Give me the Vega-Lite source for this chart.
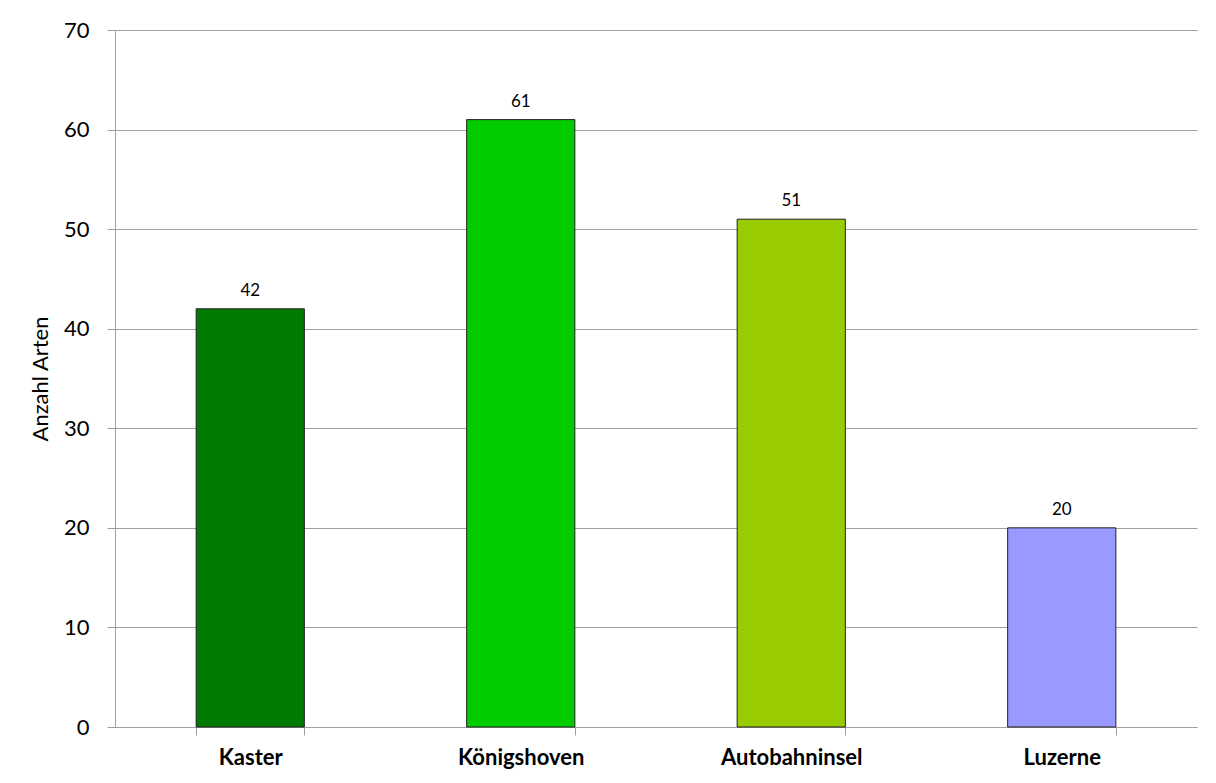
{
  "$schema": "https://vega.github.io/schema/vega-lite/v6.json",
  "width": 1082,
  "height": 697,
  "autosize": {"type": "none"},
  "padding": {"left": 115, "top": 30, "right": 19, "bottom": 56},
  "background": "white",
  "config": {
    "view": {"stroke": null},
    "font": "Lato"
  },
  "data": {
    "values": [
      {"ort": "Kaster", "arten": 42},
      {"ort": "Königshoven", "arten": 61},
      {"ort": "Autobahninsel", "arten": 51},
      {"ort": "Luzerne", "arten": 20}
    ]
  },
  "encoding": {
    "x": {
      "field": "ort",
      "type": "nominal",
      "sort": null,
      "scale": {"paddingInner": 0.6, "paddingOuter": 0.3},
      "axis": {
        "title": null,
        "labelAngle": 0,
        "labelFont": "Lato",
        "labelFontSize": 22,
        "labelFontWeight": "bold",
        "labelColor": "#000",
        "labelPadding": 12,
        "tickBand": "extent",
        "tickSize": 8,
        "tickColor": "#a0a0a0",
        "domainColor": "#a0a0a0",
        "grid": false
      }
    },
    "y": {
      "field": "arten",
      "type": "quantitative",
      "scale": {"domain": [0, 70], "nice": false},
      "axis": {
        "title": "Anzahl Arten",
        "titleFont": "Lato",
        "titleFontSize": 22,
        "titleFontWeight": "normal",
        "titleColor": "#000",
        "titlePadding": 11,
        "values": [0, 10, 20, 30, 40, 50, 60, 70],
        "labelFont": "Lato",
        "labelFontSize": 22,
        "labelColor": "#000",
        "labelPadding": 18,
        "tickSize": 8,
        "tickColor": "#a0a0a0",
        "domainColor": "#a0a0a0",
        "gridColor": "#a0a0a0",
        "grid": true
      }
    }
  },
  "layer": [
    {
      "mark": {"type": "bar", "stroke": "#222", "strokeWidth": 1},
      "encoding": {
        "color": {
          "field": "ort",
          "type": "nominal",
          "scale": {
            "domain": ["Kaster", "Königshoven", "Autobahninsel", "Luzerne"],
            "range": ["#007A00", "#00CC00", "#99CC00", "#9999FF"]
          },
          "legend": null
        }
      }
    },
    {
      "mark": {"type": "text", "baseline": "bottom", "dy": -9, "fontSize": 17, "font": "Lato", "color": "#000"},
      "encoding": {"text": {"field": "arten", "type": "quantitative"}}
    }
  ]
}
